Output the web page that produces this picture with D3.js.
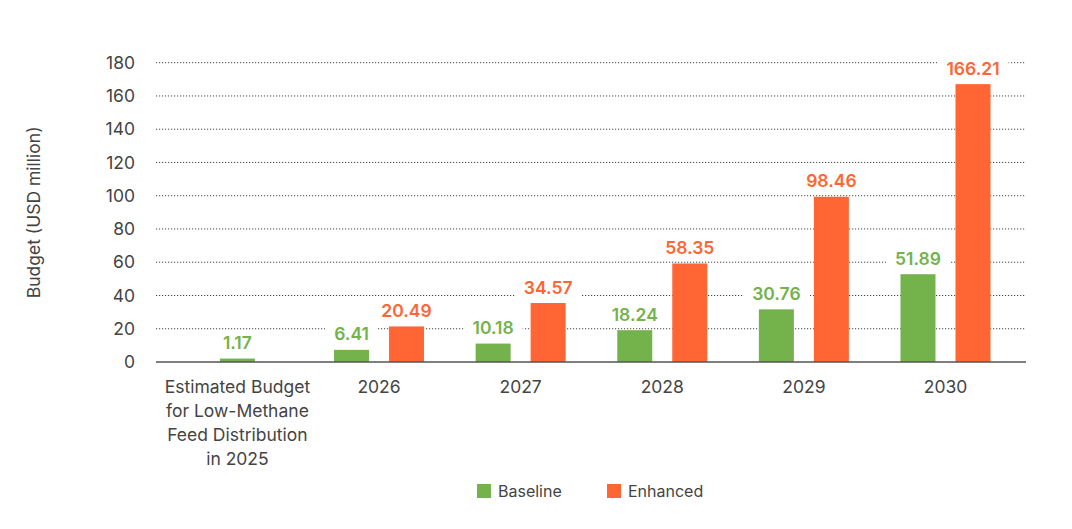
<!DOCTYPE html>
<html>
<head>
<meta charset="utf-8">
<script src="https://cdn.jsdelivr.net/npm/d3@7"></script>
<style>
  body { margin: 0; background: #fff; }
  svg text { font-family: Inter, "Noto Sans", sans-serif; }
</style>
</head>
<body>
<svg id="chart" width="1072" height="529"></svg>
<script>
// Chart data
const categories = [
    ['Estimated Budget', 'for Low-Methane', 'Feed Distribution', 'in 2025'],
    ['2026'], ['2027'], ['2028'], ['2029'], ['2030']
];
const baseline = [1.17, 6.41, 10.18, 18.24, 30.76, 51.89];
const enhanced = [null, 20.49, 34.57, 58.35, 98.46, 166.21];
const yTicks = [0, 20, 40, 60, 80, 100, 120, 140, 160, 180];
const seriesNames = ['Baseline', 'Enhanced'];

const green = '#74b24c';
const orange = '#ff6633';

const svg = d3.select('#chart');

const x = d3.scaleBand()
    .domain(d3.range(categories.length))
    .range([166.6, 1016.3]);

const y = d3.scaleLinear()
    .domain([0, 180])
    .range([362, 62.7]);

const gridLeft = 156, gridRight = 1026;

// Gridlines (dotted)
svg.append('g')
    .selectAll('line')
    .data(yTicks.filter(d => d > 0))
    .join('line')
    .attr('x1', gridLeft)
    .attr('x2', gridRight)
    .attr('y1', d => y(d))
    .attr('y2', d => y(d))
    .attr('stroke', '#444')
    .attr('stroke-width', 1)
    .attr('stroke-dasharray', '1.2,1.8');

// Y tick labels
svg.append('g')
    .selectAll('text')
    .data(yTicks)
    .join('text')
    .attr('x', 135)
    .attr('y', d => y(d))
    .attr('dy', '0.35em')
    .attr('text-anchor', 'end')
    .attr('font-size', 17.5)
    .attr('fill', '#444')
    .text(d => d);

// Y axis title
svg.append('text')
    .attr('transform', `translate(40,${(y(0) + y(180)) / 2}) rotate(-90)`)
    .attr('text-anchor', 'middle')
    .attr('font-size', 17.5)
    .attr('fill', '#444')
    .text('Budget (USD million)');

const barW = 35, gap = 20;
const center = i => x(i) + x.bandwidth() / 2;

// Bars
const bars = [];
baseline.forEach((v, i) => {
    const solo = enhanced[i] == null;
    const cx = solo ? center(i) - barW / 2 : center(i) - gap / 2 - barW;
    bars.push({ v, x: cx, color: green });
});
enhanced.forEach((v, i) => {
    if (v == null) return;
    bars.push({ v, x: center(i) + gap / 2, color: orange });
});

svg.append('g')
    .selectAll('rect')
    .data(bars)
    .join('rect')
    .attr('x', d => d.x)
    .attr('y', d => y(d.v) - 1.5)
    .attr('width', barW)
    .attr('height', d => y(0) - y(d.v) + 1.5)
    .attr('fill', d => d.color);

// Baseline axis
svg.append('line')
    .attr('x1', gridLeft)
    .attr('x2', gridRight)
    .attr('y1', y(0))
    .attr('y2', y(0))
    .attr('stroke', '#555')
    .attr('stroke-width', 1.5);

// Value labels with white backing to cut the gridlines
const labels = svg.append('g');
bars.forEach(d => {
    const g = labels.append('g');
    const t = g.append('text')
        .attr('x', d.x + barW / 2)
        .attr('y', y(d.v) - 11)
        .attr('text-anchor', 'middle')
        .attr('font-size', 17.5)
        .attr('font-weight', 600)
        .attr('fill', d.color)
        .text(d.v.toFixed(2));
    const bb = t.node().getBBox();
    g.insert('rect', 'text')
        .attr('x', bb.x - 9)
        .attr('y', bb.y - 2)
        .attr('width', bb.width + 18)
        .attr('height', bb.height + 4)
        .attr('fill', '#fff');
});

// X category labels
const xl = svg.append('g');
categories.forEach((lines, i) => {
    const t = xl.append('text')
        .attr('x', center(i))
        .attr('y', 387)
        .attr('text-anchor', 'middle')
        .attr('font-size', 17.5)
        .attr('fill', '#444');
    lines.forEach((s, j) => {
        t.append('tspan')
            .attr('x', center(i))
            .attr('y', 387 + j * 23.8)
            .attr('dy', '0.35em')
            .text(s);
    });
});

// Legend
const legend = svg.append('g');
const legendX = [477, 607];
seriesNames.forEach((name, i) => {
    legend.append('rect')
        .attr('x', legendX[i])
        .attr('y', 484)
        .attr('width', 14)
        .attr('height', 14)
        .attr('fill', i === 0 ? green : orange);
    legend.append('text')
        .attr('x', legendX[i] + 21)
        .attr('y', 491)
        .attr('dy', '0.35em')
        .attr('font-size', 16)
        .attr('fill', '#444')
        .text(name);
});
</script>
</body>
</html>
